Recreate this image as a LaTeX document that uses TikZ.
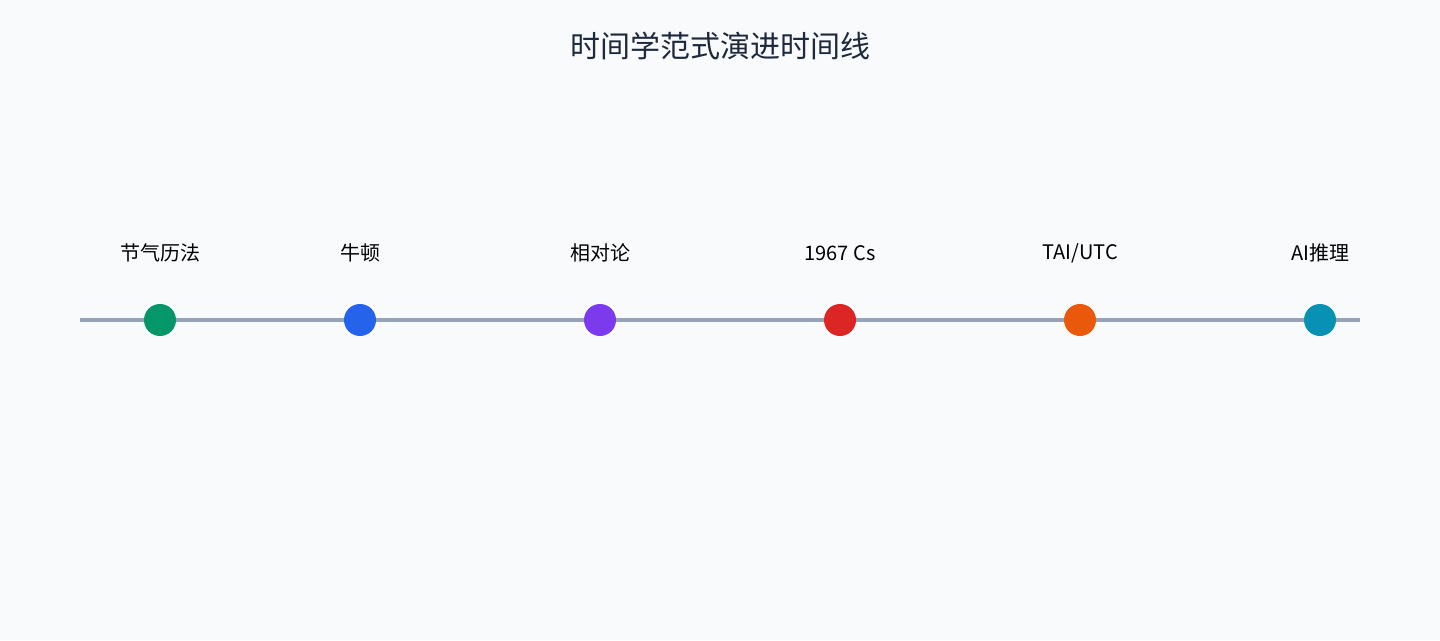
\documentclass[tikz,border=0pt]{standalone}
\usepackage{fontspec}
\setmainfont{Noto Sans CJK SC}
\definecolor{bg}{HTML}{F8FAFC}
\definecolor{axis}{HTML}{94A3B8}
\definecolor{titlec}{HTML}{1E293B}
\definecolor{c1}{HTML}{059669}
\definecolor{c2}{HTML}{2563EB}
\definecolor{c3}{HTML}{7C3AED}
\definecolor{c4}{HTML}{DC2626}
\definecolor{c5}{HTML}{EA580C}
\definecolor{c6}{HTML}{0891B2}
\begin{document}
\begin{tikzpicture}[x=1pt,y=-1pt,
  dot/.style={circle,inner sep=0pt,minimum size=32pt},
  lab/.style={font=\fontsize{20}{22}\selectfont,text=black,anchor=center,inner sep=0pt}]
\fill[bg] (0,0) rectangle (1440,640);
\useasboundingbox (0,0) rectangle (1440,640);
\node[font=\fontsize{30}{34}\selectfont,text=titlec,inner sep=0pt] (title) at (720,46) {时间学范式演进时间线};
\coordinate (l) at (80,320);
\coordinate (r) at (1360,320);
\draw[axis,line width=4pt] (l) -- (r);
\foreach \x/\c/\t [count=\i] in {160/c1/{节气历法},360/c2/{牛顿},600/c3/{相对论},840/c4/{1967 Cs},1080/c5/{TAI/UTC},1320/c6/{AI推理}}{
  \node[dot,fill=\c] (d\i) at (\x,320) {};
  \node[lab] (t\i) at (\x,253) {\t};
}
\end{tikzpicture}
\end{document}
